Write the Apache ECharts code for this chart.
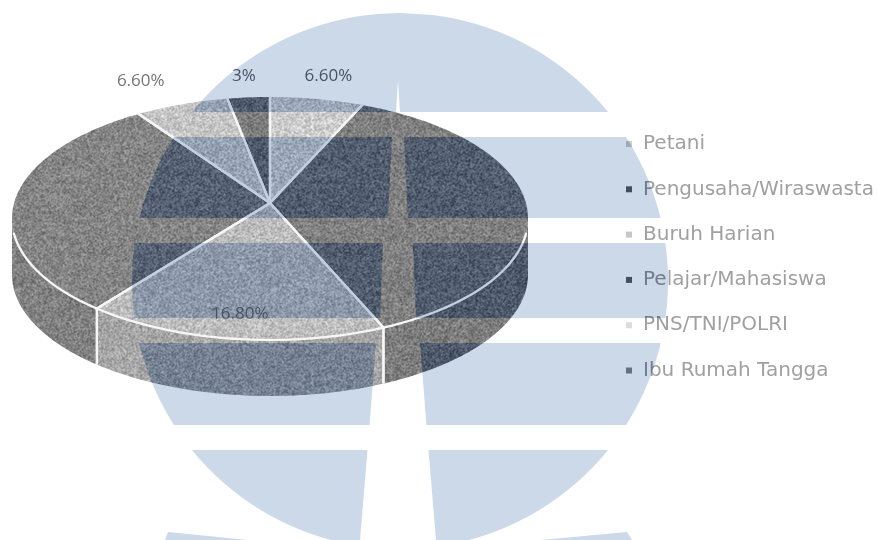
<!DOCTYPE html>
<html><head><meta charset="utf-8">
<style>html,body{margin:0;padding:0;background:#fff}#c{width:878px;height:540px}</style>
<script src="https://cdn.jsdelivr.net/npm/echarts@6/dist/echarts.min.js"></script>
</head><body><div id="c"></div>
<script>
// ---- data ----
const categories = ['Petani','Pengusaha/Wiraswasta','Buruh Harian','Pelajar/Mahasiswa','PNS/TNI/POLRI','Ibu Rumah Tangga'];
const values = [6.6, 37, 16.8, 30, 6.6, 3];
const valueLabels = ['6.60%','37%','16.80%','30%','6.60%','3%'];

// ---- styles and layout ----
const topColors = ['#cdcdcd','#808080','#bdbdbd','#848484','#c6c6c6','#7c7c7c'];
const sideColors = ['#b8b8b8','#7c7c7c','#a6a6a6','#808080','#b0b0b0','#707070'];
const legendColors = ['#cfcfcf','#707070','#c8c8c8','#707070','#dcdcdc','#949494'];
const labelRadius = [1.26,0.84,0.84,0.84,1.26,1.26];
const labelShift = [[1,0],[0,0],[0,0],[0,0],[-21,-1],[0,2]];
const labelColors = ['#757575','#8b8b8b','#757575','#969696','#757575','#757575'];
const P = {cx:270, cy:203, a:255.9, b:119.5, k:0.1276, depth:56};
const RIM = '#f6f6f6';

function proj(r, pct){
  const t = pct/100*2*Math.PI, X = r*Math.sin(t), Y = r*Math.cos(t), w = 1+P.k*Y;
  return [P.cx + P.a*X/w, P.cy - P.b*Y/w];
}
// speckle tile (visual grain only, not data)
const tileCache={};
function grain(hex,amp){
  if(tileCache[hex]) return tileCache[hex];
  const S=256, cv=document.createElement('canvas'); cv.width=cv.height=S;
  const g=cv.getContext('2d'), im=g.createImageData(S,S);
  const n=parseInt(hex.slice(1),16), base=[n>>16,(n>>8)&255,n&255];
  const h=(x,y)=>{let v=(x*374761393+y*668265263)|0; v=Math.imul(v^(v>>>13),1274126177); v^=v>>>16; return ((v>>>0)/4294967296)-.5;};
  for(let y=0;y<S;y++)for(let x=0;x<S;x++){
    const d=(h(x,y)*.6+h(x+1,y)*.5+h(x,y+1)*.5+h(x+1,y+1)*.4)*2*amp, i=(y*S+x)*4;
    im.data[i]=base[0]+d;im.data[i+1]=base[1]+d;im.data[i+2]=base[2]+d;im.data[i+3]=255;
  }
  g.putImageData(im,0,0);
  return tileCache[hex]={image:cv,repeat:'repeat'};
}
const cum=[]; values.reduce((s,v,i)=>(cum[i]=s,s+v),0);
const total=values.reduce((a,b)=>a+b,0);
const line={stroke:RIM,lineWidth:2.3,fill:null,lineCap:'round',lineJoin:'round'};

function sliceRender(idx){
  return function(){
    const s=cum[idx]/total*100, e=(cum[idx]+values[idx])/total*100;
    const n=Math.max(8,Math.round((e-s)*3));
    const top=[proj(0,0)];
    for(let i=0;i<=n;i++) top.push(proj(1,s+(e-s)*i/n));
    const kids=[];
    const arc=(lo,hi)=>{const a=Math.max(s,lo),b=Math.min(e,hi),o=[];
      if(b<=a) return o;
      for(let i=0;i<=n;i++) o.push(proj(1,a+(b-a)*i/n));
      return o;};
    const front=arc(27,73);
    if(front.length>1){
      const low=front.map(p=>[p[0],p[1]+P.depth]).reverse();
      kids.push({type:'polygon',z2:1,shape:{points:front.concat(low)},style:{fill:grain(sideColors[idx],22)}});
    }
    kids.push({type:'polygon',z2:2,shape:{points:top},style:{fill:grain(topColors[idx],22)}});
    const c=proj(0,0);
    kids.push({type:'polyline',z2:3,shape:{points:[c,proj(1,s)]},style:line});
    kids.push({type:'polyline',z2:3,shape:{points:[c,proj(1,e)]},style:line});
    const rim=arc(29,71);
    if(rim.length>1) kids.push({type:'polyline',z2:3,shape:{points:rim},style:line});
    [s,e].forEach(v=>{ if(v>27&&v<73){const p=proj(1,v);
      kids.push({type:'polyline',z2:3,shape:{points:[p,[p[0],p[1]+P.depth-1]]},style:line});}});
    const mid=(s+e)/2, lp=proj(labelRadius[idx],mid);
    kids.push({type:'text',z2:5,x:lp[0]+labelShift[idx][0],y:lp[1]+labelShift[idx][1],
      style:{text:valueLabels[idx],fill:labelColors[idx],fontFamily:'Open Sans',fontSize:17,align:'center',verticalAlign:'middle'}});
    return {type:'group',children:kids};
  };
}

// ---- watermark ----
const W={cx:400,cy:281,r:268,sx:398};
const stem=[[80,0],[112,2],[137,6],[218,10],[243,15],[318,18],[343,22],[425,28.5],[450,30.5],[540,38]];
function hw(y){for(let i=1;i<stem.length;i++){if(y<=stem[i][0]){const a=stem[i-1],b=stem[i];return a[1]+(b[1]-a[1])*(y-a[0])/(b[0]-a[0]);}}return 38;}
function edge(y){const d=y-W.cy;return Math.sqrt(Math.max(0,W.r*W.r-d*d));}
function bandPolys(){
  const out=[];
  const top=[];
  for(let y=112;y>=W.cy-W.r;y-=2) top.push([W.cx-edge(y),y]);
  for(let y=W.cy-W.r;y<=112;y+=2) top.push([W.cx+edge(y),y]);
  top.push([W.cx+edge(112),112],[W.sx+hw(112),112],[W.sx,80],[W.sx-hw(112),112]);
  out.push(top);
  [[137,218],[243,318],[343,425],[450,540]].forEach(b=>{
    [-1,1].forEach(sg=>{
      const pts=[];
      for(let y=b[0];y<=b[1];y+=3) pts.push([W.cx+sg*edge(y),y]);
      pts.push([W.cx+sg*edge(b[1]),b[1]],[W.sx+sg*hw(b[1]),b[1]],[W.sx+sg*hw(b[0]),b[0]]);
      out.push(pts);
    });
  });
  out.push([[165,540],[168,532],[248,540]]);
  out.push([[541,540],[627,532],[632,540]]);
  return out;
}
const polys=bandPolys();
const graphics=[];
polys.forEach(p=>graphics.push({type:'polygon',silent:true,z:50,shape:{points:p},style:{fill:'#d2def0',blend:'color-burn'}}));
polys.forEach(p=>graphics.push({type:'polygon',silent:true,z:51,shape:{points:p},style:{fill:'#ccd9e9',blend:'multiply'}}));

const chart=echarts.init(document.getElementById('c'),null,{renderer:'canvas'});
chart.setOption({
  animation:false,
  backgroundColor:'#ffffff',
  legend:{orient:'vertical',left:621,top:129,itemWidth:6,itemHeight:6,itemGap:25.3,icon:'rect',
    data:categories,selectedMode:false,
    textStyle:{color:'#a0a0a0',fontFamily:'DejaVu Sans',fontSize:20,lineHeight:18,padding:[0,0,0,6]}},
  graphic:graphics,
  series:categories.map((c,i)=>({
    type:'custom',name:c,coordinateSystem:'none',silent:true,
    itemStyle:{color:legendColors[i]},
    data:[values[i]],
    renderItem:sliceRender(i)
  }))
});
</script></body></html>
